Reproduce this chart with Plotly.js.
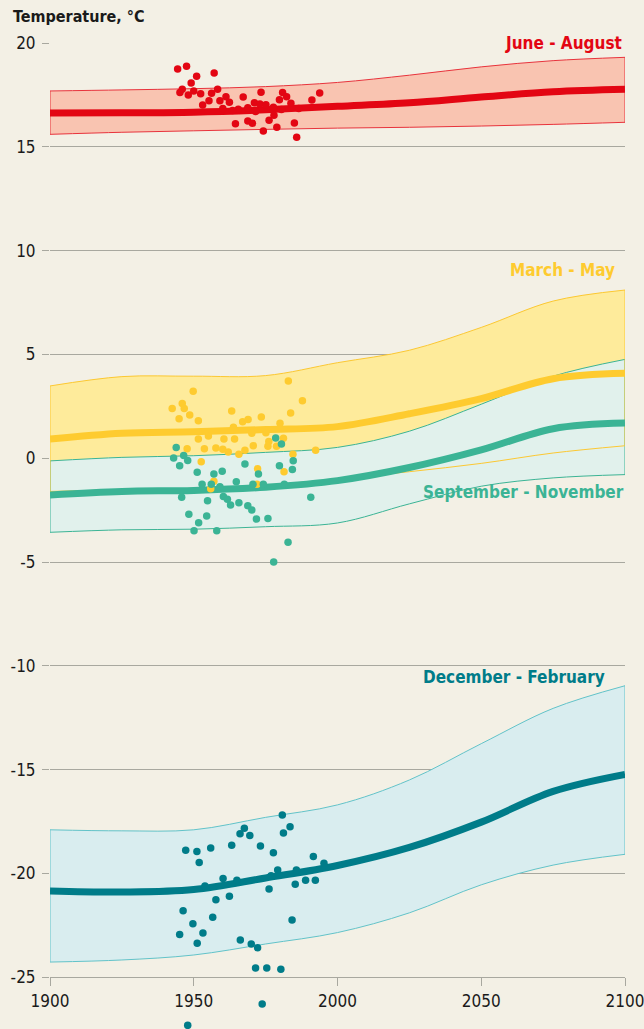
<!DOCTYPE html>
<html>
<head>
<meta charset="utf-8">
<script src="https://cdn.plot.ly/plotly-3.0.1.min.js"></script>
<style>
html,body{margin:0;padding:0;background:#f3f0e5;}
#chart{width:644px;height:1029px;}
</style>
</head>
<body>
<div id="chart"></div>
<script>
// ---- Data ----
const bandYears = [1900, 1925, 1950, 1975, 2000, 2025, 2050, 2075, 2100];

const jjaMean  = [16.63, 16.64, 16.67, 16.78, 16.95, 17.12, 17.40, 17.65, 17.77];
const jjaUpper = [17.69, 17.74, 17.80, 17.90, 18.10, 18.45, 18.85, 19.15, 19.31];
const jjaLower = [15.60, 15.70, 15.77, 15.84, 15.90, 15.94, 16.00, 16.08, 16.18];

const mamMean  = [0.92, 1.20, 1.27, 1.38, 1.52, 2.14, 2.87, 3.83, 4.09];
const mamUpper = [3.48, 3.93, 3.95, 3.98, 4.60, 5.20, 6.30, 7.57, 8.10];
const mamLower = [-1.60, -1.52, -1.45, -1.30, -1.00, -0.65, -0.25, 0.25, 0.60];

const sonMean  = [-1.77, -1.60, -1.55, -1.40, -1.08, -0.45, 0.40, 1.42, 1.69];
const sonUpper = [-0.13, 0.04, 0.12, 0.28, 0.52, 1.30, 2.60, 3.95, 4.76];
const sonLower = [-3.57, -3.45, -3.42, -3.30, -3.12, -2.20, -1.35, -0.95, -0.79];

const djfMean  = [-20.85, -20.90, -20.78, -20.22, -19.62, -18.75, -17.53, -16.05, -15.23];
const djfUpper = [-17.90, -17.95, -17.90, -17.30, -16.70, -15.50, -13.75, -12.05, -10.96];
const djfLower = [-24.27, -24.17, -23.93, -23.40, -22.85, -21.90, -20.55, -19.60, -19.08];

const jjaObsYears = [1944.4,1947.5,1951.0,1957.1,1949.1,1946.0,1945.2,1948.1,1950.0,1952.4,1956.2,1958.3,1955.3,1953.1,1959.1,1961.2,1962.4,1960.1,1965.5,1967.2,1968.8,1971.1,1973.0,1973.4,1975.1,1977.7,1977.9,1976.2,1979.8,1980.9,1982.3,1983.8,1991.1,1993.8,1964.5,1968.8,1970.4,1974.2,1978.9,1985.0,1985.8,1963.5,1971.5,1980.5,1986.5];
const jjaObsTemps = [18.75,18.88,18.40,18.55,18.07,17.77,17.61,17.50,17.69,17.56,17.58,17.77,17.22,17.01,17.22,17.41,17.14,16.85,16.81,17.40,16.88,17.12,17.06,17.63,17.03,16.90,16.52,16.28,17.27,17.61,17.41,17.10,17.25,17.59,16.11,16.24,16.13,15.76,15.94,16.15,15.46,16.75,16.70,16.80,16.85];

const mamObsYears = [1982.9,1949.8,1987.8,1942.5,1946.0,1946.7,1948.6,1944.9,1951.6,1963.2,1983.7,1967.0,1968.9,1973.5,1980.0,1963.8,1970.2,1975.1,1951.6,1955.1,1960.5,1964.2,1976.1,1981.2,1970.7,1975.8,1978.8,1947.7,1953.7,1957.7,1960.1,1962.0,1967.8,1965.7,1984.5,1992.4,1952.6,1972.2,1981.4,1957.0,1955.9,1972.0];
const mamObsTemps = [3.72,3.22,2.77,2.40,2.63,2.40,2.08,1.90,1.80,2.27,2.18,1.76,1.87,1.98,1.68,1.49,1.20,1.23,0.92,1.07,0.92,0.92,0.80,0.96,0.60,0.57,0.57,0.46,0.46,0.49,0.43,0.30,0.38,0.19,0.19,0.38,-0.17,-0.51,-0.65,-1.11,-1.47,-1.26];

const sonObsYears = [1978.5,1980.5,1943.9,1946.5,1943.0,1947.9,1945.1,1984.6,1979.8,1984.3,1967.8,1951.2,1957.0,1959.9,1972.5,1952.9,1956.1,1959.1,1964.8,1970.6,1974.2,1981.5,1945.8,1954.8,1960.3,1961.7,1962.8,1965.7,1968.8,1970.2,1990.7,1948.3,1954.5,1971.8,1975.8,1951.7,1950.1,1958.0,1982.8,1977.8];
const sonObsTemps = [0.97,0.68,0.52,0.13,0.01,-0.11,-0.36,-0.12,-0.36,-0.54,-0.28,-0.68,-0.76,-0.63,-0.76,-1.26,-1.26,-1.37,-1.13,-1.26,-1.26,-1.26,-1.88,-2.05,-1.85,-1.98,-2.25,-2.14,-2.29,-2.50,-1.88,-2.70,-2.78,-2.93,-2.90,-3.11,-3.49,-3.49,-4.05,-5.00];

const djfObsYears = [1980.8,1983.5,1981.2,1967.6,1966.1,1969.5,1973.2,1963.2,1955.9,1947.2,1951.1,1951.9,1977.7,1991.6,1995.3,1979.2,1985.7,1976.9,1960.2,1965.0,1953.9,1988.9,1992.3,1985.3,1976.2,1962.4,1957.7,1946.3,1956.6,1949.7,1984.2,1953.2,1945.1,1951.2,1966.2,1970.0,1972.2,1971.5,1975.4,1980.3,1973.8,1947.9];
const djfObsTemps = [-17.19,-17.75,-18.05,-17.83,-18.09,-18.17,-18.68,-18.65,-18.78,-18.88,-18.95,-19.48,-19.00,-19.19,-19.51,-19.84,-19.84,-20.11,-20.25,-20.33,-20.61,-20.33,-20.33,-20.52,-20.75,-21.10,-21.27,-21.80,-22.11,-22.42,-22.24,-22.87,-22.94,-23.37,-23.21,-23.40,-23.58,-24.56,-24.56,-24.62,-26.29,-27.32];

const yTickVals = [-25, -20, -15, -10, -5, 0, 5, 10, 15, 20];
const yTickText = ["-25", "-20", "-15", "-10", "-5", "0", "5", "10", "15", "20"];
const xTickVals = [1900, 1950, 2000, 2050, 2100];
const xTickText = ["1900", "1950", "2000", "2050", "2100"];

const seasonNames = ["June - August", "March - May", "September - November", "December - February"];

// ---- Styles ----
const BG = '#f3f0e5';
const GRID = '#a8a89f';
const FONT = '"Liberation Sans Narrow", "DejaVu Sans Condensed", "Open Sans", sans-serif';
const C = {
  jja: {line: '#e30613', fill: '#f9c4b1', edge: '#e8333c'},
  mam: {line: '#fecb2f', fill: '#feeb9b', edge: '#fcc832'},
  son: {line: '#3bb495', fill: '#e1f1ec', edge: '#3bb495'},
  djf: {line: '#007c89', fill: '#d9edef', edge: '#62c3c9'}
};

// y range: the axis at -25 sits above the bottom of the plot so the two
// observations below -25 stay visible.
const yTop = 20, yAxisAt = -25, yBottom = -27.447;

function fillPair(lower, upper, col, withLines) {
  const lw = withLines ? 1 : 0;
  return [
    {x: bandYears, y: lower, mode: 'lines', line: {color: col.edge, width: lw, shape: 'spline', smoothing: 1}, hoverinfo: 'skip', showlegend: false},
    {x: bandYears, y: upper, mode: 'lines', fill: 'tonexty', fillcolor: col.fill, line: {color: col.edge, width: lw, shape: 'spline', smoothing: 1}, hoverinfo: 'skip', showlegend: false}
  ];
}
function sides(lower, upper, col) {
  const n = bandYears.length - 1;
  return [
    {x: [bandYears[0], bandYears[0]], y: [lower[0], upper[0]], mode: 'lines', line: {color: col.edge, width: 1}, hoverinfo: 'skip', showlegend: false},
    {x: [bandYears[n], bandYears[n]], y: [lower[n], upper[n]], mode: 'lines', line: {color: col.edge, width: 1}, hoverinfo: 'skip', showlegend: false}
  ];
}
function outline(lower, upper, col) {
  return [
    {x: bandYears, y: lower, mode: 'lines', line: {color: col.edge, width: 1, shape: 'spline', smoothing: 1}, hoverinfo: 'skip', showlegend: false},
    {x: bandYears, y: upper, mode: 'lines', line: {color: col.edge, width: 1, shape: 'spline', smoothing: 1}, hoverinfo: 'skip', showlegend: false}
  ].concat(sides(lower, upper, col));
}
function meanLine(y, col) {
  return {x: bandYears, y: y, mode: 'lines', line: {color: col.line, width: 7, shape: 'spline', smoothing: 1}, hoverinfo: 'skip', showlegend: false};
}
function pts(xs, ys, col) {
  return {x: xs, y: ys, mode: 'markers', marker: {color: col, size: 7.5, line: {width: 0}}, cliponaxis: false, hoverinfo: 'skip', showlegend: false};
}

let data = [];
data = data.concat(fillPair(jjaLower, jjaUpper, C.jja, true), sides(jjaLower, jjaUpper, C.jja));
data = data.concat(fillPair(mamLower, mamUpper, C.mam, false));
data = data.concat(fillPair(sonLower, sonUpper, C.son, true), sides(sonLower, sonUpper, C.son));
data = data.concat(outline(mamLower, mamUpper, C.mam));
data = data.concat(fillPair(djfLower, djfUpper, C.djf, true), sides(djfLower, djfUpper, C.djf));
data.push(meanLine(jjaMean, C.jja));
data.push(meanLine(mamMean, C.mam));
data.push(meanLine(sonMean, C.son));
data.push(meanLine(djfMean, C.djf));
data.push(pts(jjaObsYears, jjaObsTemps, C.jja.line));
data.push(pts(mamObsYears, mamObsTemps, C.mam.line));
data.push(pts(sonObsYears, sonObsTemps, C.son.line));
data.push(pts(djfObsYears, djfObsTemps, C.djf.line));

const labelFont = (c) => ({family: FONT, size: 17, color: c, weight: 700});

const layout = {
  width: 644, height: 1029,
  paper_bgcolor: BG, plot_bgcolor: BG,
  margin: {l: 50, r: 19, t: 43, b: 1},
  hovermode: false,
  showlegend: false,
  font: {family: FONT, color: '#1a1a1a'},
  title: {
    text: '<b>Temperature, °C</b>',
    font: {family: FONT, size: 16, color: '#1a1a1a'},
    x: 13/644, xanchor: 'left', xref: 'container',
    y: 1 - 16/1029, yanchor: 'middle', yref: 'container'
  },
  xaxis: {
    range: [1900, 2100], tickvals: xTickVals, ticktext: xTickText,
    anchor: 'free', position: (yAxisAt - yBottom) / (yTop - yBottom),
    showgrid: false, zeroline: false,
    showline: true, linecolor: GRID, linewidth: 1,
    ticks: 'outside', ticklen: 8, tickcolor: GRID, tickwidth: 1,
    ticklabeloverflow: 'allow',
    tickfont: {family: FONT, size: 17, color: '#1a1a1a'},
    fixedrange: true
  },
  yaxis: {
    range: [yBottom, yTop], tickvals: yTickVals, ticktext: yTickText,
    showgrid: true, gridcolor: GRID, gridwidth: 1, zeroline: false,
    showline: false,
    ticks: 'outside', ticklen: 7, tickcolor: GRID, tickwidth: 1,
    ticklabelstandoff: 3,
    tickfont: {family: FONT, size: 17, color: '#1a1a1a'},
    fixedrange: true
  },
  annotations: [
    {x: 2100, y: 20, xref: 'x', yref: 'y', text: '<b>' + seasonNames[0] + '</b>', showarrow: false, xanchor: 'right', yanchor: 'middle', font: labelFont(C.jja.line), bgcolor: BG, borderpad: 2},
    {x: 2097.2, y: 9.05, xref: 'x', yref: 'y', text: '<b>' + seasonNames[1] + '</b>', showarrow: false, xanchor: 'right', yanchor: 'middle', font: labelFont(C.mam.line)},
    {x: 2100, y: -1.63, xref: 'x', yref: 'y', xshift: 1, text: '<b>' + seasonNames[2] + '</b>', showarrow: false, xanchor: 'right', yanchor: 'middle', font: labelFont(C.son.line)},
    {x: 2093.7, y: -10.54, xref: 'x', yref: 'y', text: '<b>' + seasonNames[3] + '</b>', showarrow: false, xanchor: 'right', yanchor: 'middle', font: labelFont(C.djf.line)}
  ]
};

Plotly.newPlot('chart', data, layout, {staticPlot: true, displayModeBar: false});
</script>
</body>
</html>
